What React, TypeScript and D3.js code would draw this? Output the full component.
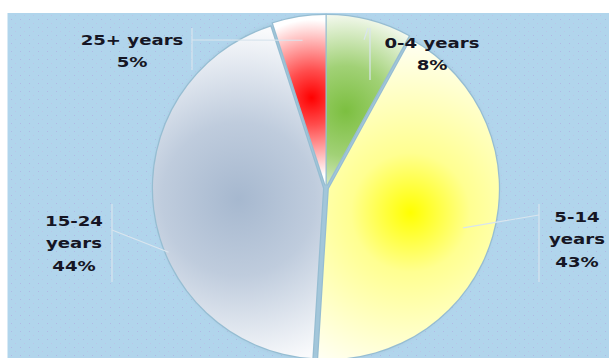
import React from "react";
import * as d3 from "d3";

const categories = ["0-4 years", "5-14 years", "15-24 years", "25+ years"];
const values = [8, 43, 44, 5];
const percentLabels = ["8%", "43%", "44%", "5%"];
const labelLines = [["0-4 years"], ["5-14", "years"], ["15-24", "years"], ["25+ years"]];
const innerColors = ["#7cbf40", "#ffff00", "#a6b8cf", "#ff0000"];
const outerColors = ["#f8fbf5", "#fffff2", "#f9fafc", "#ffffff"];

const W = 609;
const H = 358;
const cx = 326;
const cy = 188;
const R = 170;

const labelLayout = [
  { x: 432, y: 48, bx: 370, by: [28, 80], lx: 368, ly: 28, ang: 0, rf: 0.9 },
  { x: 577, y: 222, bx: 539, by: [204, 282], lx: 539, ly: 215, ang: 0, rf: 0.84 },
  { x: 74, y: 226, bx: 112, by: [204, 282], lx: 112, ly: 230, ang: -15, rf: 1.0 },
  { x: 132, y: 45, bx: 192, by: [28, 70], lx: 192, ly: 40, ang: 0, rf: 0.88 },
];
const gradLayout = [
  { rf: 0.45, r: 100, m: 0.45, mix: 0.3 },
  { rf: 0.5, r: 170, m: 0.35, mix: 0.6 },
  { rf: 0.5, r: 170, m: 0.45, mix: 0.3 },
  { rf: 0.52, r: 78, m: 0.35, mix: 0.3 },
];

export default function App() {
  const pie = d3.pie<number>().sort(null).value((d) => d);
  const arcs = pie(values);
  const arc = d3.arc<d3.PieArcDatum<number>>().innerRadius(0).outerRadius(R);
  const polar = (a: number, r: number) => [Math.sin(a) * r, -Math.cos(a) * r];
  const explode = 3;

  return (
    <svg
      width={W}
      height={H}
      style={{ position: "absolute", left: 0, top: 0, background: "#fff" }}
    >
      <defs>
        <pattern id="dots" width="9" height="8" patternUnits="userSpaceOnUse">
          <rect x="0" y="0" width="9" height="8" fill="#b1d5ec" />
          <rect x="2" y="3" width="1" height="1" fill="#b0b9e4" />
          <rect x="6" y="7" width="1" height="1" fill="#b8c6e8" />
        </pattern>
        {arcs.map((a, i) => {
          const mid = (a.startAngle + a.endAngle) / 2;
          const [gx, gy] = polar(mid, R * gradLayout[i].rf);
          const mc = d3.interpolateRgb(innerColors[i], outerColors[i])(gradLayout[i].mix);
          return (
            <radialGradient
              key={i}
              id={`g${i}`}
              gradientUnits="userSpaceOnUse"
              cx={gx}
              cy={gy}
              r={gradLayout[i].r}
            >
              <stop offset="0" stopColor={innerColors[i]} />
              <stop offset={gradLayout[i].m} stopColor={mc} />
              <stop offset="1" stopColor={outerColors[i]} />
            </radialGradient>
          );
        })}
        <filter id="blur" x="-10%" y="-10%" width="120%" height="120%">
          <feGaussianBlur stdDeviation="2.5" />
        </filter>
      </defs>
      <rect x={7.5} y={13} width={W - 7.5} height={H - 13} fill="url(#dots)" />
      <circle cx={cx} cy={cy} r={R + 2} fill="#a2c6da" filter="url(#blur)" />
      <g transform={`translate(${cx},${cy})`}>
        {arcs.map((a, i) => {
          const mid = (a.startAngle + a.endAngle) / 2;
          const [ox, oy] = polar(mid, explode);
          return (
            <path
              key={i}
              d={arc(a) || ""}
              transform={`translate(${ox},${oy})`}
              fill="#96bdd2"
              stroke="#96bdd2"
              strokeWidth={2.5}
            />
          );
        })}
        {arcs.map((a, i) => {
          const mid = (a.startAngle + a.endAngle) / 2;
          const [ox, oy] = polar(mid, explode);
          return (
            <path
              key={i}
              d={arc(a) || ""}
              transform={`translate(${ox},${oy})`}
              fill={`url(#g${i})`}
            />
          );
        })}
      </g>
      {arcs.map((a, i) => {
        const L = labelLayout[i];
        const mid = (a.startAngle + a.endAngle) / 2 + (L.ang * Math.PI) / 180;
        const [px, py] = polar(mid, R * L.rf);
        return (
          <g key={i} stroke="#d9e5ee" strokeWidth={1.2} fill="none">
            <line x1={cx + px} y1={cy + py} x2={L.lx} y2={L.ly} />
            <line x1={L.bx} y1={L.by[0]} x2={L.bx} y2={L.by[1]} />
          </g>
        );
      })}
      {categories.map((c, i) => {
        const L = labelLayout[i];
        const lines = [...labelLines[i], percentLabels[i]];
        return (
          <g key={c} transform={`translate(${L.x},0) scale(1.25,1)`}>
            {lines.map((t, j) => (
              <text
                key={j}
                x={0}
                y={L.y + j * 22.5}
                textAnchor="middle"
                fontFamily="'DejaVu Sans', Verdana, sans-serif"
                fontWeight="bold"
                fontSize={14.5}
                fill="#161624"
              >
                {t}
              </text>
            ))}
          </g>
        );
      })}
    </svg>
  );
}
